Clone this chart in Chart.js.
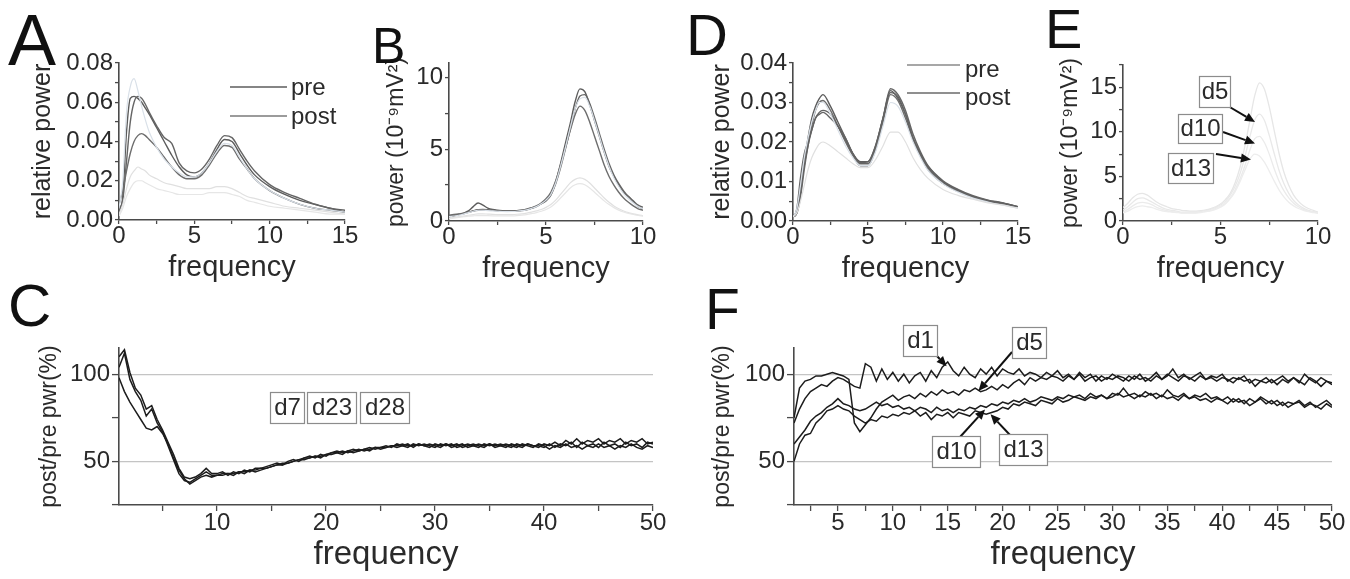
<!DOCTYPE html>
<html>
<head>
<meta charset="utf-8">
<title>power spectra</title>
<script src="https://cdn.jsdelivr.net/npm/chart.js@4.4.1/dist/chart.umd.min.js"></script>
<style>
  html, body { margin: 0; padding: 0; background: #fff; }
  #wrap { position: relative; width: 1350px; height: 579px; overflow: hidden; }
  #wrap canvas { position: absolute; left: 0; top: 0; }
</style>
</head>
<body>
<div id="wrap">
  <canvas id="chartA" width="1350" height="579"></canvas>
  <canvas id="chartB" width="1350" height="579"></canvas>
  <canvas id="chartC" width="1350" height="579"></canvas>
  <canvas id="chartD" width="1350" height="579"></canvas>
  <canvas id="chartE" width="1350" height="579"></canvas>
  <canvas id="chartF" width="1350" height="579"></canvas>
</div>
<script>
// --- data --- //
const freqTop = [0,0.25,0.5,0.75,1,1.25,1.5,1.75,2,2.5,3,3.5,4,4.5,5,5.5,6,6.5,7,7.5,8,8.5,9,10,11,12,13,14,15];

const aPre1 = [0.004,0.012,0.045,0.062,0.063,0.062,0.060,0.057,0.054,0.047,0.040,0.033,0.027,0.023,0.022,0.024,0.029,0.036,0.041,0.040,0.034,0.028,0.023,0.017,0.013,0.010,0.008,0.006,0.005];
const aPre2 = [0.006,0.010,0.030,0.050,0.060,0.063,0.062,0.059,0.055,0.048,0.042,0.039,0.029,0.025,0.024,0.026,0.031,0.038,0.043,0.042,0.036,0.030,0.025,0.018,0.014,0.011,0.008,0.006,0.004];
const aPre3 = [0.008,0.015,0.025,0.034,0.040,0.043,0.044,0.043,0.041,0.037,0.032,0.027,0.023,0.021,0.021,0.023,0.028,0.034,0.038,0.037,0.031,0.026,0.021,0.015,0.011,0.008,0.006,0.005,0.004];
const aPost1 = [0.006,0.020,0.055,0.068,0.072,0.066,0.058,0.051,0.045,0.037,0.031,0.027,0.024,0.022,0.022,0.024,0.029,0.035,0.039,0.038,0.032,0.026,0.021,0.015,0.011,0.008,0.006,0.005,0.004];
const aPost2 = [0.003,0.008,0.016,0.022,0.025,0.027,0.026,0.025,0.023,0.021,0.019,0.018,0.017,0.016,0.016,0.016,0.016,0.017,0.017,0.016,0.014,0.012,0.011,0.009,0.007,0.006,0.005,0.004,0.003];
const aPost3 = [0.002,0.006,0.012,0.016,0.019,0.020,0.020,0.019,0.018,0.016,0.015,0.014,0.013,0.013,0.013,0.013,0.014,0.014,0.014,0.013,0.012,0.010,0.009,0.007,0.006,0.005,0.004,0.003,0.003];

const dPre1 = [0.001,0.002,0.008,0.015,0.021,0.026,0.029,0.031,0.032,0.029,0.025,0.021,0.017,0.015,0.015,0.019,0.026,0.033,0.031,0.027,0.021,0.017,0.0135,0.0098,0.0077,0.0062,0.0052,0.0045,0.0036];
const dPre2 = [0.001,0.003,0.011,0.017,0.020,0.023,0.026,0.027,0.0275,0.026,0.024,0.021,0.017,0.0145,0.0145,0.0185,0.026,0.0335,0.032,0.028,0.022,0.0175,0.014,0.0102,0.008,0.0064,0.0053,0.0046,0.0036];
const dPre3 = [0.0015,0.002,0.006,0.013,0.019,0.024,0.028,0.030,0.0305,0.028,0.024,0.020,0.0165,0.014,0.014,0.018,0.025,0.032,0.0305,0.026,0.0205,0.0165,0.013,0.0095,0.0075,0.006,0.005,0.0042,0.0035];
const dPre4 = [0.001,0.002,0.007,0.014,0.019,0.023,0.026,0.0275,0.028,0.027,0.024,0.0205,0.017,0.0148,0.015,0.019,0.026,0.0325,0.0315,0.027,0.021,0.017,0.0138,0.010,0.0078,0.0062,0.0051,0.0045,0.0036];
const dPost1 = [0.001,0.002,0.005,0.009,0.013,0.016,0.018,0.0195,0.020,0.019,0.0175,0.016,0.0145,0.0135,0.0135,0.0155,0.019,0.0225,0.0225,0.020,0.016,0.013,0.0108,0.008,0.0065,0.0055,0.0046,0.004,0.0032];
const dPost2 = [0.001,0.003,0.009,0.016,0.021,0.025,0.028,0.030,0.030,0.027,0.023,0.019,0.016,0.014,0.014,0.0175,0.024,0.030,0.029,0.025,0.020,0.016,0.0128,0.0094,0.0073,0.0058,0.0048,0.004,0.0033];

const freqPow = [0,0.25,0.5,0.75,1,1.25,1.5,1.75,2,2.25,2.5,2.75,3,3.25,3.5,3.75,4,4.25,4.5,4.75,5,5.25,5.5,5.75,6,6.25,6.5,6.75,7,7.25,7.5,7.75,8,8.25,8.5,8.75,9,9.25,9.5,9.75,10];

const bPre1 = [0.30,0.35,0.45,0.55,0.70,1.00,1.25,1.10,0.90,0.80,0.75,0.72,0.70,0.70,0.70,0.72,0.78,0.88,1.00,1.20,1.40,1.80,2.70,4.00,5.40,6.80,8.30,9.20,9.00,8.10,7.00,5.90,4.80,3.80,3.10,2.50,2.00,1.70,1.35,1.00,0.85];
const bPre2 = [0.35,0.40,0.45,0.50,0.60,0.70,0.78,0.80,0.78,0.75,0.72,0.70,0.70,0.70,0.72,0.75,0.80,0.90,1.02,1.20,1.45,1.85,2.60,3.70,5.00,6.40,7.80,8.70,8.80,8.20,7.20,6.10,5.00,4.00,3.20,2.60,2.10,1.70,1.40,1.10,0.95];
const bPre3 = [0.40,0.45,0.50,0.55,0.62,0.70,0.75,0.78,0.76,0.74,0.72,0.70,0.70,0.70,0.72,0.76,0.82,0.92,1.05,1.25,1.55,2.00,2.80,3.90,5.10,6.30,7.40,8.00,7.70,6.90,5.90,4.90,3.90,3.10,2.50,2.00,1.60,1.30,1.05,0.85,0.75];
const bPost1 = [0.30,0.35,0.40,0.48,0.58,0.68,0.75,0.75,0.72,0.70,0.68,0.66,0.65,0.66,0.68,0.72,0.78,0.88,1.00,1.20,1.45,1.85,2.65,3.80,5.10,6.50,7.80,8.50,8.60,8.00,7.00,5.90,4.80,3.80,3.00,2.40,1.90,1.55,1.25,1.00,0.85];
const bPost2 = [0.20,0.25,0.30,0.35,0.40,0.45,0.50,0.50,0.48,0.46,0.45,0.44,0.44,0.45,0.47,0.50,0.55,0.62,0.70,0.80,0.95,1.15,1.45,1.85,2.25,2.65,2.90,3.00,2.90,2.65,2.30,1.95,1.60,1.30,1.05,0.85,0.70,0.58,0.50,0.43,0.38];
const bPost3 = [0.15,0.20,0.25,0.30,0.33,0.36,0.38,0.38,0.37,0.36,0.35,0.35,0.35,0.36,0.38,0.41,0.45,0.51,0.58,0.68,0.80,0.98,1.25,1.60,1.95,2.30,2.52,2.60,2.52,2.30,2.00,1.70,1.40,1.15,0.93,0.76,0.63,0.53,0.45,0.39,0.34];

const eDay1 = [1.5,2.0,2.6,3.0,3.1,2.9,2.5,2.1,1.8,1.6,1.4,1.3,1.2,1.15,1.1,1.1,1.15,1.25,1.4,1.6,1.9,2.4,3.1,4.3,6.0,8.4,11.2,14.0,15.5,14.8,12.8,10.2,7.6,5.5,4.0,2.9,2.2,1.7,1.4,1.2,1.0];
const eDay5 = [1.2,1.6,2.1,2.5,2.6,2.4,2.1,1.8,1.5,1.3,1.2,1.1,1.0,1.0,1.0,1.0,1.05,1.15,1.3,1.5,1.8,2.2,2.9,3.9,5.3,7.2,9.4,11.3,12.0,11.3,9.6,7.6,5.7,4.2,3.1,2.3,1.8,1.45,1.2,1.05,0.95];
const eDay10 = [1.0,1.3,1.7,2.0,2.1,2.0,1.8,1.5,1.3,1.15,1.05,1.0,0.95,0.95,0.95,0.95,1.0,1.1,1.2,1.4,1.65,2.0,2.6,3.5,4.7,6.2,7.9,9.2,9.5,8.8,7.5,5.9,4.5,3.4,2.6,2.0,1.6,1.3,1.1,1.0,0.9];
const eDay13 = [0.9,1.1,1.4,1.6,1.7,1.6,1.5,1.3,1.15,1.05,1.0,0.95,0.9,0.9,0.9,0.9,0.95,1.05,1.15,1.3,1.55,1.9,2.5,3.3,4.4,5.7,6.9,7.5,7.3,6.6,5.6,4.5,3.5,2.7,2.1,1.7,1.4,1.2,1.05,0.95,0.85];
const eNoteLabels = ['d5', 'd10', 'd13'];
const eNoteFreq = [6.77, 6.77, 6.56];
const eNoteVal = [11.1, 8.7, 6.9];

const freqRatio = [1,1.5,2,2.5,3,3.5,4,4.5,5,5.5,6,6.5,7,7.5,8,8.5,9,9.5,10,10.5,11,11.5,12,12.5,13,13.5,14,14.5,15,15.5,16,16.5,17,17.5,18,18.5,19,19.5,20,20.5,21,21.5,22,22.5,23,23.5,24,24.5,25,25.5,26,26.5,27,27.5,28,28.5,29,29.5,30,30.5,31,31.5,32,32.5,33,33.5,34,34.5,35,35.5,36,36.5,37,37.5,38,38.5,39,39.5,40,40.5,41,41.5,42,42.5,43,43.5,44,44.5,45,45.5,46,46.5,47,47.5,48,48.5,49,49.5,50];

const cDay7 = [98,90,84,79,74,69,68,70,66,60, 52,45,40,37,39,41,42,41,42,42, 43,42,44,43,45,44,45,46,47,48, 48,49,50,51,51,52,53,52,54,54, 55,54,56,55,56,57,56,58,57,58, 59,58,59,60,58,60,59,58,60,59, 60,58,59,60,58,59,60,59,60,58, 59,60,59,58,60,59,58,60,59,57, 59,58,60,58,59,57,59,58,60,58, 59,57,59,58,60,58,57,59,58];
const cDay23 = [110,114,101,92,88,80,82,74,68,61, 54,46,41,40,41,43,46,43,43,44, 42,44,43,45,44,46,46,47,48,49, 48,50,51,50,52,53,52,54,53,55, 56,55,56,57,56,57,58,57,58,59, 58,60,59,58,60,59,60,59,58,60, 59,60,58,59,60,59,58,60,59,60, 59,58,60,59,58,60,59,58,60,59, 61,59,62,60,63,60,62,61,63,60, 62,61,63,60,62,61,63,60,61];
const cDay28 = [104,112,97,90,85,76,80,72,67,59, 51,43,39,38,40,42,44,42,42,43, 43,43,44,44,45,45,46,46,47,48, 49,49,50,51,52,52,53,53,54,55, 55,56,55,56,57,56,57,58,58,58, 59,59,60,59,59,60,59,60,59,58, 60,59,60,58,59,60,59,58,60,59, 60,59,58,60,59,60,59,59,58,60, 58,60,59,61,58,61,59,60,58,61, 59,60,58,61,59,60,58,61,60];
const cNoteLabels = ['d7', 'd23', 'd28'];

const fDay1 = [72,80,86,90,92,94,93,96,98,97, 95,93,92,106,104,96,103,97,101,96, 100,95,99,101,96,102,98,104,107,102, 99,104,100,98,103,100,104,99,103,101, 100,103,99,101,100,98,101,99,102,98, 100,97,101,98,100,96,99,97,100,98, 96,99,97,100,96,98,101,97,99,103, 98,100,97,99,101,97,99,98,100,96, 98,97,99,95,97,96,98,95,97,99, 96,98,95,100,97,95,98,96,95];
const fDay5 = [75,92,96,97,99,99,100,101,100,99, 97,72,67,71,75,80,84,86,88,85, 87,88,86,89,87,90,88,91,89,90, 88,91,90,92,90,91,93,91,94,92, 95,97,94,98,96,98,97,99,98,96, 99,97,100,96,98,99,96,98,97,99, 98,96,99,97,98,96,99,97,100,98, 96,99,98,96,99,97,98,96,98,97, 95,98,96,97,93,96,95,97,94,97, 95,98,96,94,98,96,93,96,94];
const fDay10 = [60,64,68,73,76,78,81,83,86,83, 82,80,79,80,82,84,82,83,81,82, 80,81,79,81,80,78,81,79,80,78, 80,79,81,80,82,81,83,82,84,83, 85,84,86,84,85,87,86,85,87,86, 88,87,88,86,89,87,88,86,89,88, 92,88,89,87,90,88,89,87,91,88, 87,89,86,88,87,89,86,87,85,87, 84,86,83,86,84,87,85,83,85,82, 84,83,85,82,84,81,83,85,82];
const fDay13 = [50,60,65,66,72,75,79,80,82,80, 79,76,74,72,74,73,76,75,77,76, 78,77,79,76,78,74,77,76,78,75, 78,77,76,79,78,77,78,79,81,80, 83,82,84,83,82,85,84,83,86,84, 85,87,86,85,87,86,88,86,87,89, 87,88,86,88,87,89,86,88,86,87, 85,88,86,87,85,86,84,86,85,83, 86,84,85,82,84,86,83,85,82,84, 81,83,84,81,83,82,80,83,81];
const fNoteLabels = ['d1', 'd5', 'd10', 'd13'];
const fNoteFreq = [14.9, 17.8, 18.4, 18.9];
const fNoteVal = [104.5, 90.4, 79.8, 77];

// --- styles --- //
const FONT = '"Liberation Sans", Arial, Helvetica, sans-serif';
const AXIS = '#4a4a4a';
const TEXT = '#2a2a2a';
const GRID = '#c4c4c4';
const DARK = ['#5c5c5c', '#656565', '#6d6d6d', '#626262'];
const LIGHT = ['#d9e0e8', '#e0e0e0', '#e6e6e6'];
const FAINT = ['#e6e6e6', '#e9e9e9', '#ebebeb', '#ededed'];

function pts(xs, ys) {
  return xs.map((x, i) => ({ x: x, y: ys[i] }));
}

function smooth(xs, ys, color, width) {
  return { data: pts(xs, ys), borderColor: color, borderWidth: width, pointRadius: 0,
           fill: false, cubicInterpolationMode: 'monotone' };
}

function jagged(xs, ys) {
  return { data: pts(xs, ys), borderColor: '#1c1c1c', borderWidth: 1.5, pointRadius: 0,
           fill: false, tension: 0 };
}

// axis factory, Origin-like: only left/bottom lines, outward ticks
function axis(c) {
  return {
    type: 'linear',
    position: c.pos,
    min: c.min,
    max: c.max,
    border: { display: true, color: AXIS, width: 1.6 },
    grid: {
      drawOnChartArea: !!c.grid,
      color: c.grid || 'rgba(0,0,0,0)',
      lineWidth: 1.2,
      drawTicks: true,
      tickLength: c.tl,
      tickColor: AXIS,
      tickWidth: 1.3
    },
    ticks: {
      stepSize: c.step,
      autoSkip: false,
      includeBounds: false,
      maxRotation: 0,
      padding: c.pad,
      color: TEXT,
      font: { family: FONT, size: 24, lineHeight: 1 },
      callback: c.label
    },
    title: {
      display: true,
      text: c.title,
      color: TEXT,
      font: { family: FONT, size: c.titleSize, lineHeight: 1.2 },
      padding: { top: c.titlePad, bottom: c.titlePad }
    },
    afterFit: s => {
      if (c.pos === 'bottom') s.height = c.box; else s.width = c.box;
    }
  };
}

const gridAtMarks = ctx => (ctx.tick && (ctx.tick.value === 50 || ctx.tick.value === 100)) ? GRID : 'rgba(0,0,0,0)';

// --- letters, legends, labelled boxes and arrows --- //
function arrow(ctx, x0, y0, x1, y1) {
  const a = Math.atan2(y1 - y0, x1 - x0);
  const len = 10, half = 4.5;
  const bx = x1 - len * Math.cos(a), by = y1 - len * Math.sin(a);
  ctx.strokeStyle = '#111';
  ctx.fillStyle = '#111';
  ctx.lineWidth = 2;
  ctx.beginPath();
  ctx.moveTo(x0, y0);
  ctx.lineTo(bx, by);
  ctx.stroke();
  ctx.beginPath();
  ctx.moveTo(x1, y1);
  ctx.lineTo(bx + half * Math.sin(a), by - half * Math.cos(a));
  ctx.lineTo(bx - half * Math.sin(a), by + half * Math.cos(a));
  ctx.closePath();
  ctx.fill();
}

const extras = {
  id: 'extras',
  afterDraw(chart, args, o) {
    const ctx = chart.ctx;
    ctx.save();
    if (o.letter) {
      ctx.fillStyle = '#111';
      ctx.font = o.letter.size + 'px ' + FONT;
      ctx.textAlign = 'left';
      ctx.textBaseline = 'alphabetic';
      ctx.fillText(o.letter.text, o.letter.x, o.letter.y);
    }
    (o.legend || []).forEach(l => {
      ctx.strokeStyle = l.color;
      ctx.lineWidth = 1.5;
      ctx.beginPath();
      ctx.moveTo(l.x0, l.y);
      ctx.lineTo(l.x1, l.y);
      ctx.stroke();
      ctx.fillStyle = TEXT;
      ctx.font = '24px ' + FONT;
      ctx.textAlign = 'left';
      ctx.textBaseline = 'middle';
      ctx.fillText(l.text, l.tx, l.ty);
    });
    (o.arrows || []).forEach(a => {
      const tx = chart.scales.x.getPixelForValue(a.fx);
      const ty = chart.scales.y.getPixelForValue(a.fy);
      arrow(ctx, a.x0, a.y0, tx, ty);
    });
    (o.boxes || []).forEach(b => {
      ctx.fillStyle = '#fff';
      ctx.fillRect(b.x, b.y, b.w, b.h);
      ctx.strokeStyle = '#8c8c8c';
      ctx.lineWidth = 1.2;
      ctx.strokeRect(b.x + 0.5, b.y + 0.5, b.w, b.h);
      ctx.fillStyle = TEXT;
      ctx.font = '24px ' + FONT;
      ctx.textAlign = 'center';
      ctx.textBaseline = 'middle';
      ctx.fillText(b.text, b.x + b.w / 2 + 0.5, b.y + b.h / 2 + 1);
    });
    ctx.restore();
  }
};

function makeChart(id, p) {
  return new Chart(document.getElementById(id), {
    type: 'line',
    data: { datasets: p.datasets },
    options: {
      responsive: false,
      animation: false,
      devicePixelRatio: 1,
      layout: {
        padding: {
          left: p.area[0] - p.y.box,
          top: p.area[1],
          right: 1350 - p.area[2],
          bottom: 579 - p.area[3] - p.x.box
        }
      },
      scales: { x: axis(Object.assign({ pos: 'bottom' }, p.x)), y: axis(Object.assign({ pos: 'left' }, p.y)) },
      plugins: { legend: { display: false }, tooltip: { enabled: false }, extras: p.extras }
    },
    plugins: [extras]
  });
}

const every5 = v => (v % 5 === 0 ? v : '');
const every10 = v => (v % 10 === 0 ? v : '');
const every50 = v => (v % 50 === 0 ? v : '');
const topX = { min: 0, step: 2.5, label: every5, tl: 4, pad: 0, title: 'frequency', titleSize: 29, titlePad: 5, box: 70 };

// A: relative power, rat 1
makeChart('chartA', {
  area: [119, 63, 345, 220],
  x: Object.assign({}, topX, { max: 15 }),
  y: { min: 0, max: 0.08, step: 0.01, tl: 4, pad: 2, box: 95, title: 'relative power', titleSize: 25, titlePad: 4,
       label: v => (Math.round(v * 100) % 2 === 0 ? v.toFixed(2) : '') },
  datasets: [
    smooth(freqTop, aPost3, LIGHT[2], 1.2),
    smooth(freqTop, aPost2, LIGHT[1], 1.2),
    smooth(freqTop, aPost1, LIGHT[0], 1.2),
    smooth(freqTop, aPre3, DARK[2], 1.4),
    smooth(freqTop, aPre2, DARK[1], 1.4),
    smooth(freqTop, aPre1, DARK[0], 1.4)
  ],
  extras: {
    letter: { text: 'A', x: 8, y: 65, size: 72 },
    legend: [
      { text: 'pre', color: '#5c5c5c', x0: 230, x1: 287, y: 87, tx: 291, ty: 88 },
      { text: 'post', color: '#7a7a7a', x0: 230, x1: 287, y: 116, tx: 291, ty: 117 }
    ]
  }
});

// B: absolute power, rat 1
makeChart('chartB', {
  area: [449, 63, 643, 221],
  x: Object.assign({}, topX, { max: 10 }),
  y: { min: 0, max: 11, step: 2.5, tl: 4, pad: 2, box: 70, title: 'power (10⁻⁹mV²)', titleSize: 23, titlePad: 4, label: every5 },
  datasets: [
    smooth(freqPow, bPost3, LIGHT[2], 1.2),
    smooth(freqPow, bPost2, LIGHT[1], 1.2),
    smooth(freqPow, bPost1, LIGHT[0], 1.2),
    smooth(freqPow, bPre3, DARK[2], 1.4),
    smooth(freqPow, bPre2, DARK[1], 1.4),
    smooth(freqPow, bPre1, DARK[0], 1.4)
  ],
  extras: { letter: { text: 'B', x: 372, y: 63, size: 50 } }
});

// C: post/pre ratio, rat 1
makeChart('chartC', {
  area: [119, 348, 653, 505],
  x: { min: 1, max: 50, step: 5, label: every10, tl: 6, pad: 0, title: 'frequency', titleSize: 33, titlePad: 4, box: 74 },
  y: { min: 25, max: 115, step: 25, label: every50, tl: 7, pad: 2, box: 100, title: 'post/pre pwr(%)', titleSize: 23, titlePad: 17, grid: gridAtMarks },
  datasets: [jagged(freqRatio, cDay7), jagged(freqRatio, cDay23), jagged(freqRatio, cDay28)],
  extras: {
    letter: { text: 'C', x: 8, y: 326, size: 60 },
    boxes: [
      { text: cNoteLabels[0], x: 270, y: 392, w: 34, h: 31 },
      { text: cNoteLabels[1], x: 307, y: 392, w: 49, h: 31 },
      { text: cNoteLabels[2], x: 360, y: 392, w: 49, h: 31 }
    ]
  }
});

// D: relative power, rat 2
makeChart('chartD', {
  area: [793, 63, 1018, 221],
  x: Object.assign({}, topX, { max: 15 }),
  y: { min: 0, max: 0.04, step: 0.005, tl: 4, pad: 2, box: 95, title: 'relative power', titleSize: 25, titlePad: 9,
       label: v => (Math.round(v * 1000) % 10 === 0 ? v.toFixed(2) : '') },
  datasets: [
    smooth(freqTop, dPost1, LIGHT[1], 1.2),
    smooth(freqTop, dPost2, LIGHT[0], 1.2),
    smooth(freqTop, dPre4, DARK[3], 1.4),
    smooth(freqTop, dPre3, DARK[2], 1.4),
    smooth(freqTop, dPre2, DARK[1], 1.4),
    smooth(freqTop, dPre1, DARK[0], 1.4)
  ],
  extras: {
    letter: { text: 'D', x: 686, y: 55, size: 58 },
    legend: [
      { text: 'pre', color: '#8a8a8a', x0: 907, x1: 960, y: 65, tx: 965, ty: 70 },
      { text: 'post', color: '#6a6a6a', x0: 907, x1: 960, y: 93, tx: 965, ty: 98 }
    ]
  }
});

// E: absolute power by day, rat 2
makeChart('chartE', {
  area: [1123, 65, 1318, 221],
  x: Object.assign({}, topX, { max: 10 }),
  y: { min: 0, max: 17.5, step: 2.5, tl: 4, pad: 2, box: 70, title: 'power (10⁻⁹mV²)', titleSize: 23, titlePad: 4, label: every5 },
  datasets: [
    smooth(freqPow, eDay13, FAINT[3], 1.3),
    smooth(freqPow, eDay10, FAINT[2], 1.3),
    smooth(freqPow, eDay5, FAINT[1], 1.3),
    smooth(freqPow, eDay1, FAINT[0], 1.3)
  ],
  extras: {
    letter: { text: 'E', x: 1045, y: 48, size: 56 },
    arrows: [
      { x0: 1228, y0: 106, fx: eNoteFreq[0], fy: eNoteVal[0] },
      { x0: 1223, y0: 132, fx: eNoteFreq[1], fy: eNoteVal[1] },
      { x0: 1216, y0: 154, fx: eNoteFreq[2], fy: eNoteVal[2] }
    ],
    boxes: [
      { text: eNoteLabels[0], x: 1199, y: 76, w: 31, h: 31 },
      { text: eNoteLabels[1], x: 1178, y: 114, w: 44, h: 29 },
      { text: eNoteLabels[2], x: 1168, y: 153, w: 45, h: 30 }
    ]
  }
});

// F: post/pre ratio by day, rat 2
makeChart('chartF', {
  area: [794, 348, 1332, 505],
  x: { min: 1, max: 50, step: 2.5, label: every5, tl: 6, pad: 0, title: 'frequency', titleSize: 33, titlePad: 4, box: 74 },
  y: { min: 25, max: 115, step: 25, label: every50, tl: 7, pad: 2, box: 100, title: 'post/pre pwr(%)', titleSize: 23, titlePad: 15, grid: gridAtMarks },
  datasets: [jagged(freqRatio, fDay1), jagged(freqRatio, fDay5), jagged(freqRatio, fDay10), jagged(freqRatio, fDay13)],
  extras: {
    letter: { text: 'F', x: 705, y: 329, size: 57 },
    arrows: [
      { x0: 936, y0: 355, fx: fNoteFreq[0], fy: fNoteVal[0] },
      { x0: 1012, y0: 352, fx: fNoteFreq[1], fy: fNoteVal[1] },
      { x0: 960, y0: 437, fx: fNoteFreq[2], fy: fNoteVal[2] },
      { x0: 1010, y0: 435, fx: fNoteFreq[3], fy: fNoteVal[3] }
    ],
    boxes: [
      { text: fNoteLabels[0], x: 903, y: 325, w: 34, h: 31 },
      { text: fNoteLabels[1], x: 1012, y: 327, w: 34, h: 31 },
      { text: fNoteLabels[2], x: 932, y: 436, w: 48, h: 31 },
      { text: fNoteLabels[3], x: 999, y: 434, w: 48, h: 31 }
    ]
  }
});
</script>
</body>
</html>
